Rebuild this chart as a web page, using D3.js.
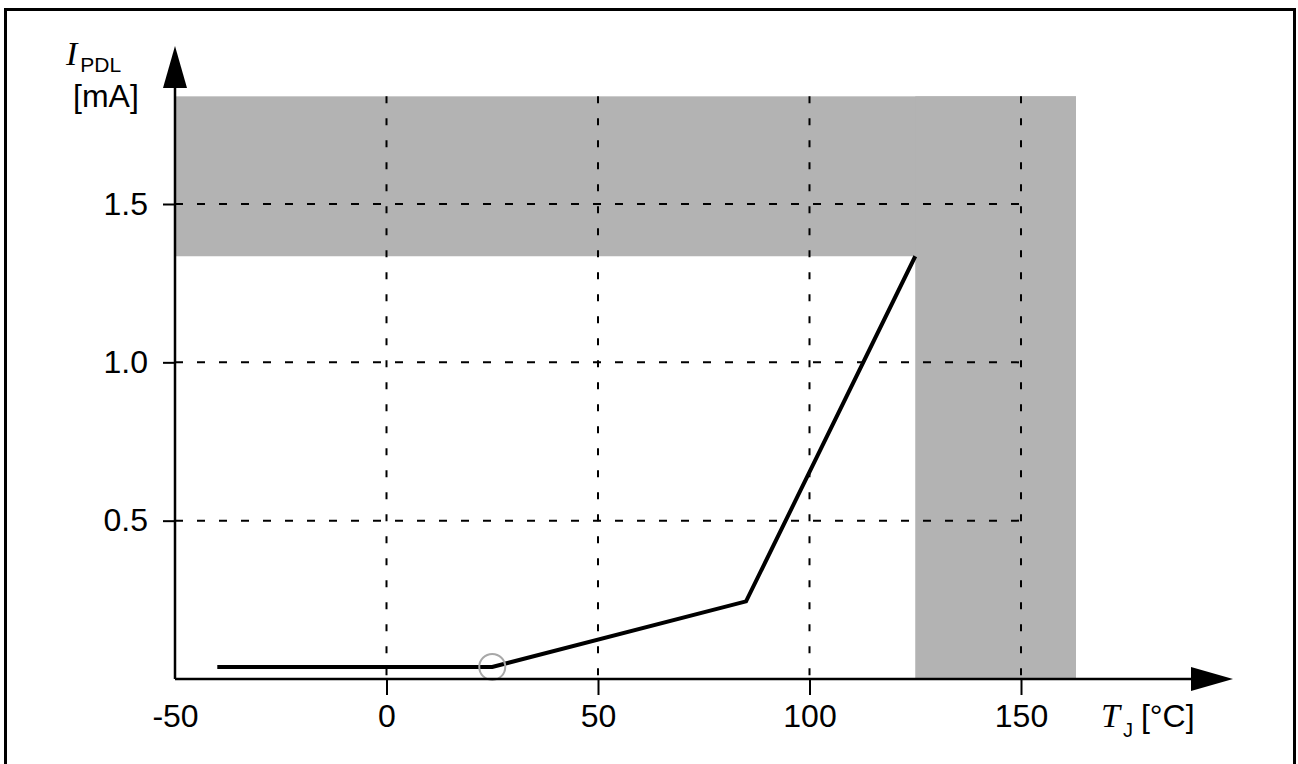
<!DOCTYPE html>
<html>
<head>
<meta charset="utf-8">
<script src="https://cdn.jsdelivr.net/npm/d3@7"></script>
<style>
  body { margin: 0; background: #fff; }
  text { font-family: "Liberation Sans", Arial, sans-serif; fill: #000; }
  .serif { font-family: "Liberation Serif", "Times New Roman", serif; font-style: italic; }
</style>
</head>
<body>
<div class="chart"></div>
<script>
// curve: junction temperature vs pull-down current
var TEMPS = [-40, 25, 85, 125];
var CURRENTS = [0.038, 0.038, 0.245, 1.335];

// marked typical point
var MARK_TEMP = 25;
var MARK_CURRENT = 0.038;

var X_TICKS = [-50, 0, 50, 100, 150];
var Y_TICKS = [0.5, 1.0, 1.5];
var X_GRID = [0, 50, 100, 150];

// shaded (out of spec) regions: [t0, t1, i0, i1]
var BANDS = [
  [-50, 163, 1.335, 1.84],
  [125, 163, 0, 1.84]
];

var W = 1298, H = 764;

var svg = d3.select(".chart").append("svg")
  .attr("width", W)
  .attr("height", H);

var x = d3.scaleLinear().domain([-50, 150]).range([175, 1021]);
var y = d3.scaleLinear().domain([0, 1.5]).range([679, 204]);

// frame
svg.append("rect")
  .attr("x", 5.5).attr("y", 9.5)
  .attr("width", 1289).attr("height", 762)
  .attr("fill", "none")
  .attr("stroke", "#000")
  .attr("stroke-width", 3);

// grey bands
svg.selectAll(".band")
  .data(BANDS)
  .enter().append("rect")
  .attr("class", "band")
  .attr("x", function(d) { return x(d[0]); })
  .attr("y", function(d) { return y(d[3]); })
  .attr("width", function(d) { return x(d[1]) - x(d[0]); })
  .attr("height", function(d) { return y(d[2]) - y(d[3]); })
  .attr("fill", "#b3b3b3");

// dashed grid
svg.selectAll(".vgrid")
  .data(X_GRID)
  .enter().append("line")
  .attr("x1", function(d) { return x(d); })
  .attr("x2", function(d) { return x(d); })
  .attr("y1", y(1.84))
  .attr("y2", y(0))
  .attr("stroke", "#000")
  .attr("stroke-width", 2)
  .attr("stroke-dasharray", "7,15");

svg.selectAll(".hgrid")
  .data(Y_TICKS)
  .enter().append("line")
  .attr("x1", x(-50))
  .attr("x2", x(150))
  .attr("y1", function(d) { return y(d); })
  .attr("y2", function(d) { return y(d); })
  .attr("stroke", "#000")
  .attr("stroke-width", 2)
  .attr("stroke-dasharray", "8,14");

// axes (ticks + labels)
var xAxis = d3.axisBottom(x).tickValues(X_TICKS).tickSize(16).tickPadding(9)
  .tickFormat(function(d) { return String(d); });
var yAxis = d3.axisLeft(y).tickValues(Y_TICKS).tickSize(12).tickPadding(15)
  .tickFormat(function(d) { return d.toFixed(1); });

var gx = svg.append("g")
  .attr("transform", "translate(0," + y(0) + ")")
  .call(xAxis);
var gy = svg.append("g")
  .attr("transform", "translate(" + x(-50) + ",0)")
  .call(yAxis);

[gx, gy].forEach(function(g) {
  g.select(".domain").remove();
  g.selectAll("line").attr("stroke", "#000").attr("stroke-width", 2);
  g.selectAll("text")
    .attr("font-family", "Liberation Sans, Arial, sans-serif")
    .attr("font-size", 32)
    .attr("fill", "#000");
});
gx.selectAll(".tick").filter(function(d) { return d === -50; }).select("line").remove();

// curve
var line = d3.line()
  .x(function(d) { return x(d[0]); })
  .y(function(d) { return y(d[1]); });

svg.append("path")
  .datum(d3.zip(TEMPS, CURRENTS))
  .attr("d", line)
  .attr("fill", "none")
  .attr("stroke", "#000")
  .attr("stroke-width", 4)
  .attr("stroke-linejoin", "miter");

svg.append("circle")
  .attr("cx", x(MARK_TEMP))
  .attr("cy", y(MARK_CURRENT))
  .attr("r", 13)
  .attr("fill", "none")
  .attr("stroke", "#a8a8a8")
  .attr("stroke-width", 2);

// axis lines with arrow heads
var x0 = x(-50), y0 = y(0);
svg.append("line")
  .attr("x1", x0).attr("x2", 1192)
  .attr("y1", y0).attr("y2", y0)
  .attr("stroke", "#000").attr("stroke-width", 2.5);
svg.append("path")
  .attr("d", "M1191," + (y0 - 12) + "L1233," + y0 + "L1191," + (y0 + 12) + "Z")
  .attr("fill", "#000");

svg.append("line")
  .attr("x1", x0).attr("x2", x0)
  .attr("y1", y0).attr("y2", 87)
  .attr("stroke", "#000").attr("stroke-width", 2.5);
svg.append("path")
  .attr("d", "M" + (x0 - 12) + ",88L" + x0 + ",46L" + (x0 + 12) + ",88Z")
  .attr("fill", "#000");

// axis titles
var yt = svg.append("text").attr("x", 66).attr("y", 65);
yt.append("tspan").attr("class", "serif").attr("font-size", 34).text("I");
yt.append("tspan").attr("font-size", 21).attr("dx", 3).attr("dy", 7).text("PDL");

svg.append("text")
  .attr("x", 73).attr("y", 107)
  .attr("font-size", 32)
  .text("[mA]");

var xt = svg.append("text").attr("x", 1101).attr("y", 727);
xt.append("tspan").attr("class", "serif").attr("font-size", 34).text("T");
xt.append("tspan").attr("font-size", 20).attr("dx", 3).attr("dy", 10).text("J");
xt.append("tspan").attr("font-size", 32).attr("dx", 8).attr("dy", -10).text("[°C]");
</script>
</body>
</html>
